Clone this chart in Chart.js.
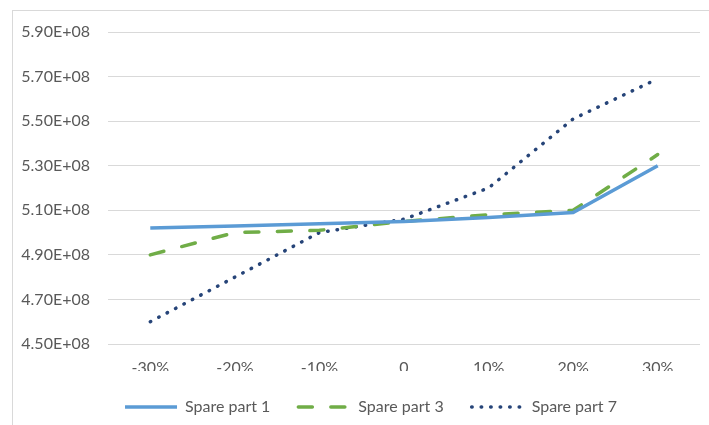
<!DOCTYPE html>
<html>
<head>
<meta charset="utf-8">
<script src="https://cdn.jsdelivr.net/npm/chart.js@4"></script>
<style>
  html, body { margin: 0; padding: 0; background: #fff; overflow: hidden; }
  #wrap { position: relative; width: 709px; height: 425px; }
  #frame { position: absolute; left: 12px; top: 10px; width: 720px; height: 440px; border: 1px solid #D9D9D9; box-sizing: border-box; }
  #chart { position: absolute; left: 0; top: 0; }
</style>
</head>
<body>
<div id="wrap">
  <div id="frame"></div>
  <canvas id="chart" width="709" height="425"></canvas>
</div>
<script>
// kategori sumbu x
var categories = ['-30%', '-20%', '-10%', '0', '10%', '20%', '30%'];

// nilai tiap seri
var sparePart1 = [5.02e8, 5.03e8, 5.04e8, 5.05e8, 5.068e8, 5.09e8, 5.30e8];
var sparePart3 = [4.90e8, 5.00e8, 5.01e8, 5.05e8, 5.08e8, 5.10e8, 5.35e8];
var sparePart7 = [4.60e8, 4.80e8, 5.00e8, 5.06e8, 5.20e8, 5.51e8, 5.69e8];

var yMin = 4.5e8;
var yMax = 5.9e8;
var yStep = 0.2e8;

var textColor = '#595959';
var fontFamily = 'Lato, "Liberation Sans", sans-serif';
var fontSize = 16;

// geser legenda sedikit ke kanan, seperti di gambar asli
var legendShift = {
    id: 'legendShift',
    afterLayout: function(chart) {
        chart.legend.left += 21;
        chart.legend.right += 21;
    }
};

const ctx = document.getElementById('chart').getContext('2d');

var lineChart = new Chart(ctx, {
    type: 'line',
    data: {
        labels: categories,
        datasets: [{
            label: 'Spare part 1',
            data: sparePart1,
            borderColor: '#5B9BD5',
            backgroundColor: '#5B9BD5',
            borderWidth: 3.5,
            borderCapStyle: 'butt',
            pointRadius: 0,
            tension: 0
        }, {
            label: 'Spare part 3',
            data: sparePart3,
            borderColor: '#70AD47',
            backgroundColor: '#70AD47',
            borderWidth: 3.5,
            borderDash: [14, 18.5],
            borderCapStyle: 'round',
            pointRadius: 0,
            tension: 0
        }, {
            label: 'Spare part 7',
            data: sparePart7,
            borderColor: '#264478',
            backgroundColor: '#264478',
            borderWidth: 3.5,
            borderDash: [0.5, 9],
            borderCapStyle: 'round',
            pointRadius: 0,
            tension: 0
        }]
    },
    options: {
        responsive: false,
        animation: false,
        layout: {
            padding: { left: 0, right: 9, top: 32, bottom: 0 }
        },
        scales: {
            x: {
                offset: true,
                grid: { display: false, drawTicks: false },
                border: { display: false },
                afterFit: function(scale) {
                    scale.height = 27;
                },
                ticks: {
                    color: textColor,
                    padding: 14,
                    maxRotation: 0,
                    font: { family: fontFamily, size: fontSize }
                }
            },
            y: {
                min: yMin,
                max: yMax,
                grid: { color: '#D9D9D9', lineWidth: 1, drawTicks: false },
                border: { display: false },
                afterFit: function(scale) {
                    scale.width = 108;
                },
                ticks: {
                    stepSize: yStep,
                    color: textColor,
                    padding: 18,
                    font: { family: fontFamily, size: fontSize },
                    callback: function(value) {
                        return (value / 1e8).toFixed(2) + 'E+08';
                    }
                }
            }
        },
        plugins: {
            legend: {
                position: 'bottom',
                labels: {
                    usePointStyle: true,
                    pointStyle: 'line',
                    pointStyleWidth: 52,
                    padding: 28,
                    color: textColor,
                    font: { family: fontFamily, size: fontSize },
                    // garis legenda ikut pola garis datanya
                    generateLabels: function(chart) {
                        var items = Chart.defaults.plugins.legend.labels.generateLabels(chart);
                        items.forEach(function(item, i) {
                            var ds = chart.data.datasets[i];
                            item.lineDash = ds.borderDash || [];
                            item.lineCap = ds.borderCapStyle;
                            item.lineWidth = ds.borderWidth;
                            item.strokeStyle = ds.borderColor;
                        });
                        return items;
                    }
                }
            },
            tooltip: { enabled: false }
        }
    },
    plugins: [legendShift]
});
</script>
</body>
</html>
